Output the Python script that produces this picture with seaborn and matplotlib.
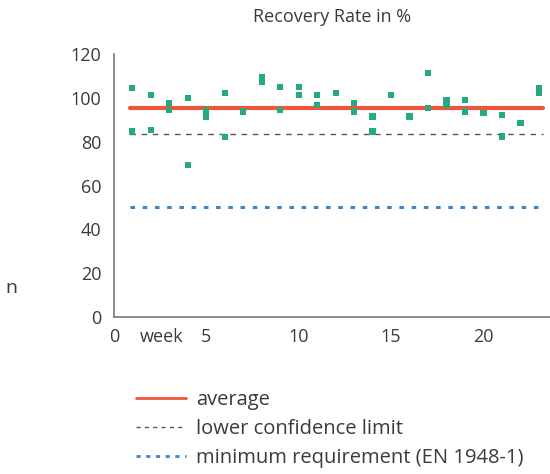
import matplotlib
matplotlib.use('Agg')
import matplotlib.pyplot as plt
import seaborn as sns
import pandas as pd
from matplotlib.lines import Line2D

weeks = [1, 1, 2, 2, 3, 3, 4, 4, 5, 5, 6, 6, 7, 8, 8, 9, 9, 10, 10, 11, 11, 12,
         13, 13, 14, 14, 15, 16, 17, 17, 18, 18, 19, 19, 20, 21, 21, 22, 23, 23]
recovery = [104.4, 84.7, 101.4, 85.5, 97.6, 94.5, 99.9, 69.5, 94.5, 91.5, 102.1, 82.1,
            93.8, 109.7, 107.4, 105.1, 94.5, 105.1, 101.4, 101.4, 96.8, 102.1, 97.6, 93.8,
            91.5, 84.7, 101.4, 91.5, 111.2, 95.3, 99.1, 96.8, 99.1, 93.8, 93.0, 92.3, 82.4,
            88.5, 104.4, 102.1]

line_weeks = [0.9, 23.2]
average = [95.5, 95.5]
lower_limit = [83.5, 83.5]
minimum = [50.0, 50.0]

legend_labels = ['average', 'lower confidence limit', 'minimum requirement (EN 1948-1)']
x_ticks = [0, 5, 10, 15, 20]
y_ticks = [0, 20, 40, 60, 80, 100, 120]

sns.set_theme(style='white')
plt.rcParams['font.family'] = ['Open Sans', 'DejaVu Sans']

df = pd.DataFrame({'week': weeks, 'recovery': recovery})

fig = plt.figure(figsize=(5.5, 4.74), dpi=100)
ax = fig.add_axes([0.207, 0.331, 0.793, 0.555])

red = '#f0553a'
green = '#26a882'
blue = '#3f86c8'

sns.lineplot(x=line_weeks, y=average, color=red, linewidth=3, ax=ax)
sns.lineplot(x=line_weeks, y=lower_limit, color='#555555', linewidth=1,
             linestyle=(0, (4, 4)), ax=ax)
sns.lineplot(x=line_weeks, y=minimum, color=blue, linewidth=2.2,
             linestyle=(0, (1.5, 2.5)), ax=ax)
sns.scatterplot(data=df, x='week', y='recovery', color=green, marker='s',
                s=20, edgecolor='none', ax=ax, zorder=5)

ax.set_xlim(0, 23.6)
ax.set_ylim(0, 120)
ax.set_xticks(x_ticks)
ax.set_yticks(y_ticks)
ax.set_xlabel('')
ax.set_ylabel('')
sns.despine(ax=ax)
for side in ['left', 'bottom']:
    ax.spines[side].set_color('#777777')
    ax.spines[side].set_linewidth(1.2)
ax.tick_params(axis='both', colors='#777777', length=4, width=1,
               labelcolor='#3a3a3a', labelsize=13)
ax.tick_params(axis='y', pad=5)
ax.tick_params(axis='x', direction='inout', pad=6)

ax.text(2.6, -5.0, 'week', ha='center', va='top', fontsize=13, color='#3a3a3a')
ax.set_title('Recovery Rate in %', fontsize=13, color='#3a3a3a', pad=23)
fig.text(0.01, 0.382, 'n', fontsize=14, color='#3a3a3a')

handles = [
    Line2D([], [], color=red, linewidth=2),
    Line2D([], [], color='#555555', linewidth=1, linestyle=(0, (3, 3))),
    Line2D([], [], color=blue, linewidth=2, linestyle=(0, (1.5, 2))),
]
fig.legend(handles, legend_labels, loc='upper left', bbox_to_anchor=(0.232, 0.195),
           frameon=False, fontsize=14.5, handlelength=2.5, labelspacing=0.45,
           handletextpad=0.5, borderaxespad=0, labelcolor='#3a3a3a')

fig.savefig('out.png', dpi=100)
